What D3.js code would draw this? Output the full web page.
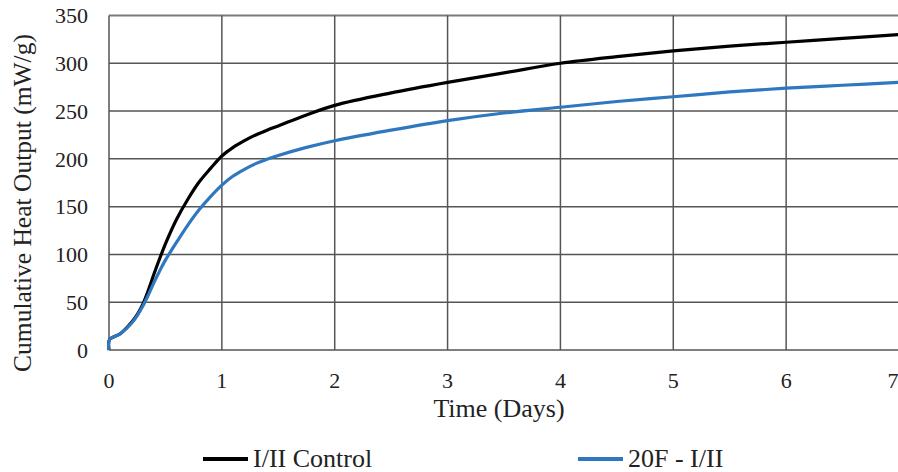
<!DOCTYPE html>
<html><head><meta charset="utf-8">
<script src="https://cdn.jsdelivr.net/npm/d3@7"></script>
<style>html,body{margin:0;padding:0;background:#fff;overflow:hidden}</style>
</head><body>
<svg id="chart" width="898" height="472"></svg>
<script>
const timeDays = [0, 0.005, 0.1, 0.2, 0.25, 0.3, 0.35, 0.4, 0.45, 0.5, 0.6, 0.7, 0.8, 0.9, 1.0, 1.1, 1.2, 1.3, 1.4, 1.5, 1.75, 2, 2.5, 3, 3.5, 4, 4.5, 5, 5.5, 6, 6.5, 7];
const controlSeries = [0, 11, 17, 29, 37, 48, 63, 80, 96, 111, 137, 158, 176, 190, 203, 212, 219, 225, 230, 234.5, 246, 256, 269, 280, 290, 300, 307, 313, 318, 322, 326, 330];
const f20Series = [0, 11, 17, 28, 36, 46, 58, 71, 83, 94, 113, 131, 147, 160.5, 172.5, 182, 189, 195, 199.5, 203.5, 212, 219, 230, 240, 248, 254, 260, 265, 270, 274, 277, 280];
const seriesNames = ["I/II Control", "20F - I/II"];
const xTicks = [0, 1, 2, 3, 4, 5, 6, 7];
const yTicks = [0, 50, 100, 150, 200, 250, 300, 350];
const xTitle = "Time (Days)";
const yTitle = "Cumulative Heat Output (mW/g)";

const FONT = '"Liberation Serif", "Times New Roman", serif';
const svg = d3.select("#chart");
const x = d3.scaleLinear().domain([0, 7]).range([109, 899]);
const y = d3.scaleLinear().domain([0, 350]).range([350, 15.5]);

// grid
svg.append("g").selectAll("line").data(yTicks).join("line")
  .attr("x1", x(0)).attr("x2", x(7)).attr("y1", d => y(d)).attr("y2", d => y(d))
  .attr("stroke", d => d === 350 ? "#7a7a7a" : "#555").attr("stroke-width", d => d === 350 ? 2 : 1.5);
svg.append("g").selectAll("line").data(xTicks).join("line")
  .attr("y1", y(0)).attr("y2", y(350)).attr("x1", d => x(d)).attr("x2", d => x(d))
  .attr("stroke", "#555").attr("stroke-width", 1.5);

// tick labels
svg.append("g").selectAll("text").data(yTicks).join("text")
  .attr("x", 88).attr("y", d => y(d)).attr("dy", "0.35em")
  .attr("text-anchor", "end").style("font-family", FONT).attr("font-size", 22).attr("fill", "#222")
  .text(d => d);
svg.append("g").selectAll("text").data(xTicks).join("text")
  .attr("x", d => Math.min(x(d), 893)).attr("y", 388)
  .attr("text-anchor", "middle").style("font-family", FONT).attr("font-size", 22).attr("fill", "#222")
  .text(d => d);

// titles
svg.append("text").attr("x", 499).attr("y", 417).attr("text-anchor", "middle")
  .style("font-family", FONT).attr("font-size", 26).attr("fill", "#222").text(xTitle);
svg.append("text").attr("transform", "translate(31,203) rotate(-90)").attr("text-anchor", "middle")
  .style("font-family", FONT).attr("font-size", 25.5).attr("fill", "#222").text(yTitle);

// lines
const line = d3.line().x(d => x(d[0])).y(d => y(d[1])).curve(d3.curveCatmullRom.alpha(0.5));
const colors = ["#000000", "#2f78c0"];
[controlSeries, f20Series].forEach((s, i) => {
  const pts = timeDays.map((t, j) => [t, s[j]]);
  svg.append("path").datum(pts).attr("d", line).attr("fill", "none")
    .attr("stroke", colors[i]).attr("stroke-width", 3.2).attr("stroke-linejoin", "round");
});

// legend
const legX = [203, 578];
seriesNames.forEach((n, i) => {
  svg.append("line").attr("x1", legX[i]).attr("x2", legX[i] + 45).attr("y1", 459).attr("y2", 459)
    .attr("stroke", colors[i]).attr("stroke-width", 4);
  svg.append("text").attr("x", legX[i] + 50).attr("y", 467)
    .style("font-family", FONT).attr("font-size", 26).attr("fill", "#222").text(n);
});
</script>
</body></html>
